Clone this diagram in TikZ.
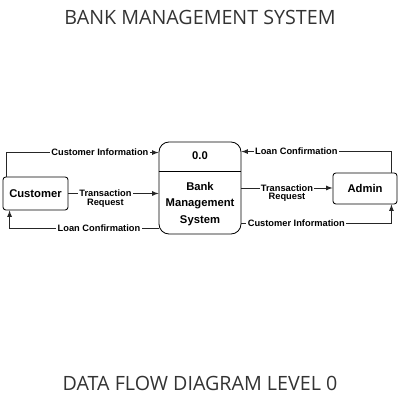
\documentclass[tikz,border=0pt]{standalone}
\usepackage{fontspec}
\setmainfont{Liberation Sans}
\newfontfamily\headfont{Open Sans}
\usetikzlibrary{shapes,arrows,positioning}

\begin{document}
\begin{tikzpicture}[
				entity/.style={draw, rounded corners=2pt, line width=0.6pt, minimum width=1.6cm, minimum height=0.8cm, font=\fontsize{8}{9}\selectfont\bfseries},
				lbl/.style={fill=white, inner sep=1pt, font=\fontsize{6.6}{6}\selectfont\bfseries, align=center},
				flow/.style={-latex, line width=0.6pt, draw=black!85},
				head/.style={font=\headfont\fontsize{14}{16}\selectfont, text=black!80}
				]
				\useasboundingbox (0,0) rectangle (10,10);
				% titles
				\node [head] (title) at (5,9.575) {BANK MANAGEMENT SYSTEM};
				\node [head] (level) at (5,0.425) {DATA FLOW DIAGRAM LEVEL 0};
				% entities and process
				\node [entity, minimum width=1.625cm, minimum height=0.825cm] (cust) at (0.8875,5.1625) {Customer};
				\node [entity, minimum width=1.6cm, minimum height=0.775cm] (admin) at (9.125,5.2875) {Admin};
				\node [draw, rounded corners=0.25cm, line width=0.6pt, minimum width=2.05cm, minimum height=2.3cm] (proc) at (5,5.3) {};
				\draw [line width=0.6pt] ([yshift=-0.75cm]proc.north west) -- ([yshift=-0.75cm]proc.north east);
				\node [font=\fontsize{8}{9}\selectfont\bfseries] (procid) at ([yshift=-0.36cm]proc.north) {0.0};
				\node [font=\fontsize{8}{11.7}\selectfont\bfseries, align=center] (procname) at ([yshift=-0.4cm]proc.center) {Bank\\Management\\System};
				% flows on the left
				\draw [flow] ([xshift=0.1cm]cust.north west) |- node [lbl, pos=0.807] {Customer Information} ([yshift=-0.275cm]proc.north west);
				\draw [flow] (cust.east) -- node [lbl, pos=0.41, anchor=north, yshift=0.13cm] {Transaction\\Request} (cust.east -| proc.west);
				\draw [flow] ([yshift=0.15cm]proc.south west) -| node [lbl, pos=0.2] {Loan Confirmation} ([xshift=0.175cm]cust.south west);
				% flows on the right
				\draw [flow] ([xshift=-0.15cm]admin.north east) |- node [lbl, pos=0.817] {Loan Confirmation} ([yshift=-0.25cm]proc.north east);
				\draw [flow] (proc.east) -- node [lbl, pos=0.5, anchor=north, yshift=0.13cm] {Transaction\\Request} (proc.east -| admin.west);
				\draw [flow] ([yshift=0.275cm]proc.south east) -| node [lbl, pos=0.183] {Customer Information} ([xshift=-0.15cm]admin.south east);
\end{tikzpicture}
\end{document}
